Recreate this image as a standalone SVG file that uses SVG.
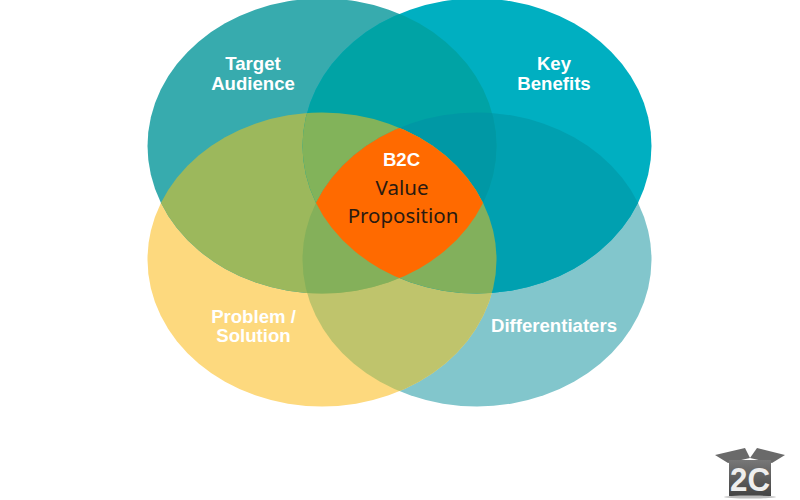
<svg xmlns="http://www.w3.org/2000/svg" width="800" height="500" viewBox="0 0 800 500">
<style>
.lab{font-family:"Liberation Sans",Arial,sans-serif;font-weight:700;font-size:18.600px;fill:#fff;text-anchor:middle}
.val{font-family:"Noto Sans","Open Sans",sans-serif;font-size:20.500px;fill:#2a1a10;text-anchor:middle}
</style>
<defs>
<clipPath id="cTL"><ellipse cx="322" cy="146" rx="174.500" ry="147.500"/></clipPath>
<clipPath id="cTR"><ellipse cx="477" cy="146" rx="174.500" ry="147.500"/></clipPath>
<clipPath id="cBL"><ellipse cx="322" cy="259.500" rx="174.500" ry="147"/></clipPath>
<clipPath id="cBR"><ellipse cx="477" cy="259.500" rx="174.500" ry="147"/></clipPath>
<ellipse id="eTL" cx="322" cy="146" rx="174.500" ry="147.500"/>
<ellipse id="eTR" cx="477" cy="146" rx="174.500" ry="147.500"/>
<ellipse id="eBL" cx="322" cy="259.500" rx="174.500" ry="147"/>
<ellipse id="eBR" cx="477" cy="259.500" rx="174.500" ry="147"/>
<linearGradient id="box" x1="0" y1="0" x2="0" y2="1"><stop offset="0" stop-color="#777"/><stop offset="1" stop-color="#444"/></linearGradient>
</defs>
<rect width="800" height="500" fill="#fff"/>
<g id="differentiaters"><use href="#eBR" fill="#82c6cc"/><text class="lab" x="554" y="332">Differentiaters</text></g>
<g id="problem-solution"><use href="#eBL" fill="#fdd97e"/><text class="lab" x="253.500" y="323">Problem /</text><text class="lab" x="253.500" y="342">Solution</text></g>
<g id="target-audience"><use href="#eTL" fill="#37abae"/><text class="lab" x="253" y="70">Target</text><text class="lab" x="253" y="90">Audience</text></g>
<g id="key-benefits"><use href="#eTR" fill="#00afc1"/><text class="lab" x="554" y="70">Key</text><text class="lab" x="554" y="90">Benefits</text></g>
<g id="overlaps">
<g clip-path="url(#cBR)"><use href="#eBL" fill="#bfc46c"/></g>
<g clip-path="url(#cBR)"><use href="#eTR" fill="#00a0b0"/></g>
<g clip-path="url(#cBL)"><use href="#eTL" fill="#9cb85c"/></g>
<g clip-path="url(#cTL)"><use href="#eTR" fill="#00a3a5"/></g>
<g clip-path="url(#cTL)"><g clip-path="url(#cTR)"><use href="#eBL" fill="#82b35a"/></g></g>
<g clip-path="url(#cTL)"><g clip-path="url(#cTR)"><use href="#eBR" fill="#0098a5"/></g></g>
<g clip-path="url(#cBL)"><g clip-path="url(#cBR)"><use href="#eTL" fill="#84b05a"/></g></g>
<g clip-path="url(#cBL)"><g clip-path="url(#cBR)"><use href="#eTR" fill="#82b05c"/></g></g>
</g>
<g id="value-proposition">
<g clip-path="url(#cTL)"><g clip-path="url(#cTR)"><g clip-path="url(#cBL)"><use href="#eBR" fill="#ff6a00"/></g></g></g>
<text class="lab" x="401.500" y="166">B2C</text>
<text class="val" x="402" y="195">Value</text>
<text class="val" x="403" y="223">Proposition</text>
</g>
<g id="logo">
<path d="M715 455L745 448L750 458L728 463Z" fill="#6a6a6a"/>
<path d="M785 455L757 448L750 458L772 463Z" fill="#6a6a6a"/>
<rect x="729" y="460" width="42" height="36" fill="url(#box)"/>
<ellipse cx="750" cy="497" rx="26" ry="1.500" fill="#bbb"/>
<text x="750" y="491" font-family="'Liberation Sans',sans-serif" font-weight="700" font-size="33" fill="#eee" text-anchor="middle" textLength="40" lengthAdjust="spacingAndGlyphs">2C</text>
</g>
</svg>
